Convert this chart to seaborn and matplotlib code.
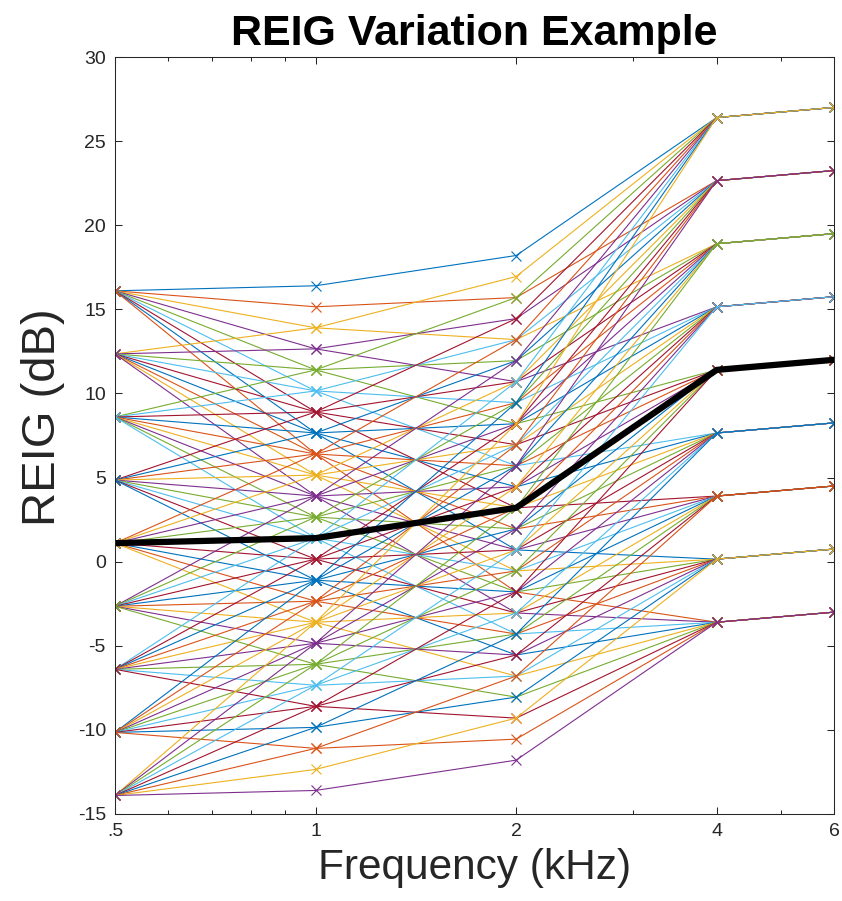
import matplotlib
matplotlib.use("Agg")
import matplotlib.pyplot as plt
import pandas as pd
import seaborn as sns
from matplotlib.ticker import FixedLocator, NullFormatter

# ---------------- data ----------------
freqs_khz = [0.5, 1, 2, 4, 6]
freq_tick_labels = [".5", "1", "2", "4", "6"]
freq_minor_ticks = [0.6, 0.7, 0.8, 0.9, 3, 5]
reig_ticks = [-15, -10, -5, 0, 5, 10, 15, 20, 25, 30]

# distinct REIG levels (dB) seen at each frequency
levels_05k = [16.1, 12.35, 8.6, 4.85, 1.1, -2.65, -6.4, -10.15, -13.9]
levels_1k = [16.4, 15.15, 13.9, 12.65, 11.4, 10.15, 8.9, 7.65, 6.4, 5.15,
             3.9, 2.65, 1.4, 0.15, -1.1, -2.35, -3.6, -4.85, -6.1, -7.35,
             -8.6, -9.85, -11.1, -12.35, -13.6]
levels_2k = [18.2, 16.95, 15.7, 14.45, 13.2, 11.95, 10.7, 9.45, 8.2, 6.95,
             5.7, 4.45, 3.2, 1.95, 0.7, -0.55, -1.8, -3.05, -4.3, -5.55,
             -6.8, -8.05, -9.3, -10.55, -11.8]
levels_4k = [26.4, 22.65, 18.9, 15.15, 11.4, 7.65, 3.9, 0.15, -3.6]
levels_6k = [27.0, 23.25, 19.5, 15.75, 12.0, 8.25, 4.5, 0.75, -3.0]

# which level each of the 81 variation curves passes through
line_idx_05k = [0, 0, 0, 0, 0, 0, 0, 0, 0,
                1, 1, 1, 1, 1, 1, 1, 1, 1,
                2, 2, 2, 2, 2, 2, 2, 2, 2,
                3, 3, 3, 3, 3, 3, 3, 3, 3,
                4, 4, 4, 4, 4, 4, 4, 4, 4,
                5, 5, 5, 5, 5, 5, 5, 5, 5,
                6, 6, 6, 6, 6, 6, 6, 6, 6,
                7, 7, 7, 7, 7, 7, 7, 7, 7,
                8, 8, 8, 8, 8, 8, 8, 8, 8]
line_idx_1k = [0, 1, 2, 3, 4, 5, 6, 7, 8,
               2, 3, 4, 5, 6, 7, 8, 9, 10,
               4, 5, 6, 7, 8, 9, 10, 11, 12,
               6, 7, 8, 9, 10, 11, 12, 13, 14,
               8, 9, 10, 11, 12, 13, 14, 15, 16,
               10, 11, 12, 13, 14, 15, 16, 17, 18,
               12, 13, 14, 15, 16, 17, 18, 19, 20,
               14, 15, 16, 17, 18, 19, 20, 21, 22,
               16, 17, 18, 19, 20, 21, 22, 23, 24]
line_idx_2k = [0, 2, 4, 6, 8, 10, 12, 14, 16,
               1, 3, 5, 7, 9, 11, 13, 15, 17,
               2, 4, 6, 8, 10, 12, 14, 16, 18,
               3, 5, 7, 9, 11, 13, 15, 17, 19,
               4, 6, 8, 10, 12, 14, 16, 18, 20,
               5, 7, 9, 11, 13, 15, 17, 19, 21,
               6, 8, 10, 12, 14, 16, 18, 20, 22,
               7, 9, 11, 13, 15, 17, 19, 21, 23,
               8, 10, 12, 14, 16, 18, 20, 22, 24]
line_idx_hi = [0, 1, 2, 3, 4, 5, 6, 7, 8,
               0, 1, 2, 3, 4, 5, 6, 7, 8,
               0, 1, 2, 3, 4, 5, 6, 7, 8,
               0, 1, 2, 3, 4, 5, 6, 7, 8,
               0, 1, 2, 3, 4, 5, 6, 7, 8,
               0, 1, 2, 3, 4, 5, 6, 7, 8,
               0, 1, 2, 3, 4, 5, 6, 7, 8,
               0, 1, 2, 3, 4, 5, 6, 7, 8,
               0, 1, 2, 3, 4, 5, 6, 7, 8]

mean_reig = [1.1, 1.4, 3.2, 11.4, 12.0]

# ---------------- build long table ----------------
rows = []
for k in range(len(line_idx_05k)):
    vals = [levels_05k[line_idx_05k[k]], levels_1k[line_idx_1k[k]],
            levels_2k[line_idx_2k[k]], levels_4k[line_idx_hi[k]],
            levels_6k[line_idx_hi[k]]]
    for f, v in zip(freqs_khz, vals):
        rows.append({"line": f"L{k:02d}", "freq": f, "reig": v})
df = pd.DataFrame(rows)

matlab_colors = ["#0072BD", "#D95319", "#EDB120", "#7E2F8E",
                 "#77AC30", "#4DBEEE", "#A2142F"]
palette = [matlab_colors[k % 7] for k in range(len(line_idx_05k))]

# ---------------- style ----------------
sns.set_style("ticks")
plt.rcParams["font.family"] = ["Liberation Sans", "DejaVu Sans"]
ink = "#262626"

fig = plt.figure(figsize=(8.42, 9.01), dpi=100)
ax = fig.add_axes([115 / 842, 87 / 901, 719 / 842, 757 / 901])

sns.lineplot(data=df, x="freq", y="reig", hue="line", palette=palette,
             estimator=None, sort=False, legend=False, linewidth=0.8,
             marker="x", markersize=7, markeredgewidth=0.8,
             markeredgecolor=None, ax=ax)
for ln in ax.lines:
    ln.set_markeredgecolor(ln.get_color())

sns.lineplot(x=freqs_khz, y=mean_reig, color="black", linewidth=4.5,
             estimator=None, sort=False, ax=ax)

ax.set_xscale("log")
ax.set_xlim(0.5, 6)
ax.set_ylim(-15, 30)
ax.xaxis.set_major_locator(FixedLocator(freqs_khz))
ax.set_xticklabels(freq_tick_labels)
ax.xaxis.set_minor_locator(FixedLocator(freq_minor_ticks))
ax.xaxis.set_minor_formatter(NullFormatter())
ax.set_yticks(reig_ticks)
ax.set_yticklabels([str(t) for t in reig_ticks])
ax.yaxis.set_minor_locator(FixedLocator([]))

ax.tick_params(which="both", direction="in", top=True, right=True,
               color=ink, width=0.75, labelsize=14, labelcolor=ink, pad=6.5)
ax.tick_params(which="major", length=5)
ax.tick_params(which="minor", length=3)
for sp in ax.spines.values():
    sp.set_visible(True)
    sp.set_color(ink)
    sp.set_linewidth(0.75)

ax.set_title("REIG Variation Example", fontsize=31, fontweight="bold",
             color="black", pad=9)
ax.set_xlabel("Frequency (kHz)", fontsize=30.5, color=ink, labelpad=6)
ax.set_ylabel("REIG (dB)", fontsize=34, color=ink)
ax.yaxis.set_label_coords(-0.0695, 0.524)

fig.savefig("out.png", dpi=100)
